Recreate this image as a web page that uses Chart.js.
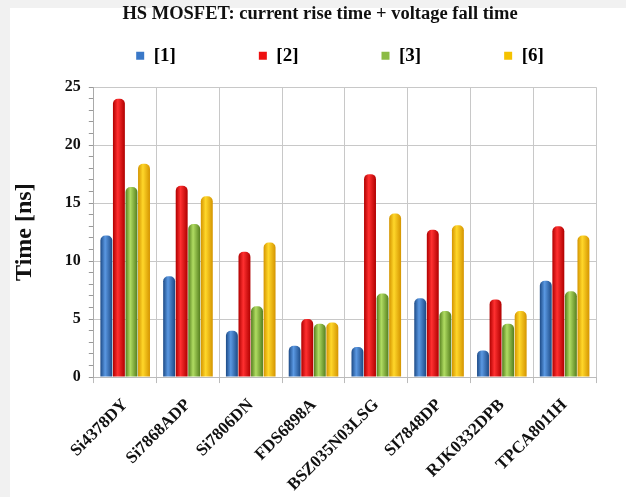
<!DOCTYPE html>
<html><head><meta charset="utf-8">
<script src="https://cdn.jsdelivr.net/npm/chart.js@4"></script>
<style>
html,body{margin:0;padding:0;width:626px;height:497px;overflow:hidden;background:#f1f1f1;}
#wrap{position:absolute;left:10px;top:8px;width:616px;height:489px;background:#fff;}
#c{position:absolute;left:10px;top:0;display:block;}
</style></head><body>
<div id="wrap"></div>
<canvas id="c" width="616" height="497"></canvas>
<script>
const categories = ["Si4378DY","Si7868ADP","Si7806DN","FDS6898A","BSZ035N03LSG","SI7848DP","RJK0332DPB","TPCA8011H"];
const seriesNames = ["[1]","[2]","[3]","[6]"];
const s1 = [12.2, 8.7, 4.0, 2.7, 2.6, 6.8, 2.3, 8.3];
const s2 = [24.0, 16.5, 10.8, 5.0, 17.5, 12.7, 6.7, 13.0];
const s3 = [16.4, 13.2, 6.1, 4.6, 7.2, 5.7, 4.6, 7.4];
const s6 = [18.4, 15.6, 11.6, 4.7, 14.1, 13.1, 5.7, 12.2];
const yTicks = [0,5,10,15,20,25];

const palettes = [
  ['#1c4a86','#5a98e2','#2a63aa'],
  ['#b00000','#ff3030','#d90000'],
  ['#557f1e','#b0dc62','#74a533'],
  ['#d49400','#ffd72a','#e6ac00']
];
const solid = ['#3a78c8','#ee1010','#8cbb45','#f5c200'];

const cylPlugin = {
  id:'cyl',
  beforeLayout(chart){
    const lg = chart.legend;
    if(lg && !lg._wrapped){
      const orig = lg.fit;
      lg.fit = function(){ orig.apply(this, arguments); this.height += 12; };
      lg._wrapped = true;
    }
  },
  afterLayout(chart){
    const lg = chart.legend;
    if(lg){ lg.left += 37; lg.right += 37; }
    const tt = chart.titleBlock;
    if(tt){ tt.left += 17; tt.right += 17; }
  },
  beforeDatasetsDraw(chart){
    const ctx = chart.ctx;
    chart.data.datasets.forEach((ds,i)=>{
      const meta = chart.getDatasetMeta(i);
      const p = palettes[i];
      meta.data.forEach(el=>{
        const x0 = el.x - el.width/2, x1 = el.x + el.width/2;
        const g = ctx.createLinearGradient(x0,0,x1,0);
        g.addColorStop(0,p[0]); g.addColorStop(0.4,p[1]); g.addColorStop(1,p[0]);
        if(el.options) el.options.backgroundColor = g;
      });
    });
  }
};

const serif = '"Liberation Serif","Times New Roman",serif';
const dataArr = [s1,s2,s3,s6];
const gapSpaces = '\u2003\u2003\u2003\u2003';
new Chart(document.getElementById('c'),{
  type:'bar',
  data:{labels:categories, datasets: seriesNames.map((n,i)=>({
    label:n, data:dataArr[i],
    backgroundColor:(c)=>solid[i],
    borderWidth:0,
    borderRadius:{topLeft:5,topRight:5,bottomLeft:0,bottomRight:0},
    borderSkipped:false,
    categoryPercentage:0.8, barPercentage:0.95
  }))},
  options:{
    responsive:false, animation:false,
    layout:{padding:{left:0,right:30,top:3,bottom:-10}},
    plugins:{
      title:{display:true,text:'HS MOSFET: current rise time + voltage fall time',
        font:{family:serif,size:18.5,weight:'bold'},color:'#111',padding:{top:0,bottom:14}},
      legend:{position:'top',labels:{font:{family:serif,size:19,weight:'bold'},color:'#111',
        boxWidth:8,boxHeight:8,padding:7,
        generateLabels:(chart)=>seriesNames.map((n,i)=>({text:i<seriesNames.length-1?n+gapSpaces:n,fillStyle:solid[i],strokeStyle:solid[i],lineWidth:0,datasetIndex:i}))}},
      tooltip:{enabled:false}
    },
    scales:{
      x:{grid:{offset:true,color:'#c8c8c8',tickColor:'#bbb',tickLength:6},
        border:{color:'#bbb'},
        ticks:{maxRotation:45,minRotation:45,font:{family:serif,size:17,weight:'bold'},color:'#111',padding:12}},
      y:{min:0,max:25,
        grid:{color:(c)=>(c.tick && c.tick.value%5===0)?'#c8c8c8':'rgba(0,0,0,0)',tickColor:'#999',tickLength:5},
        border:{color:'#aaa'},
        ticks:{stepSize:1,autoSkip:false,callback:(v)=>yTicks.includes(v)?String(v):'',font:{family:serif,size:16,weight:'bold'},color:'#111',padding:8},
        title:{display:true,text:'Time [ns]',font:{family:serif,size:24,weight:'bold'},color:'#111',padding:{top:0,bottom:18}}}
    }
  },
  plugins:[cylPlugin]
});
</script>
</body></html>
